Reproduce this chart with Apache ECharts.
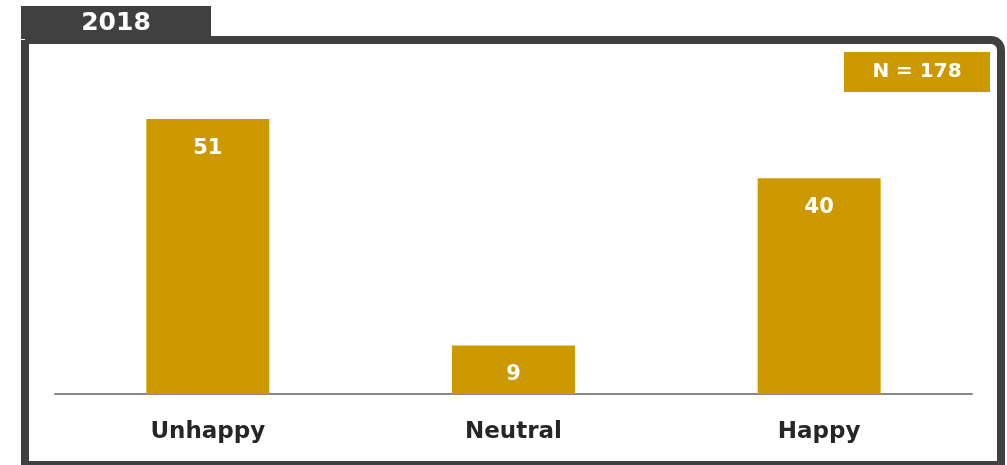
<!DOCTYPE html>
<html>
<head>
<meta charset="utf-8">
<script src="https://cdn.jsdelivr.net/npm/echarts@6/dist/echarts.min.js"></script>
<style>
  html, body { margin: 0; padding: 0; background: #ffffff; }
  #chart { width: 1007px; height: 465px; }
</style>
</head>
<body>
<div id="chart"></div>
<script>
// Survey responses for 2018
const categories = ['Unhappy', 'Neutral', 'Happy'];
const values = [51, 9, 40];
const yearLabel = '2018';
const sampleLabel = 'N = 178';

const gold = '#CC9900';
const frame = '#404040';

const chart = echarts.init(document.getElementById('chart'));

chart.setOption({
  animation: false,
  backgroundColor: '#ffffff',
  grid: { left: 55, right: 35, top: 70.5, bottom: 71 },
  xAxis: {
    type: 'category',
    data: categories,
    axisLine: { lineStyle: { color: '#888888', width: 2 } },
    axisTick: { show: false },
    axisLabel: {
      margin: 27,
      color: '#262626',
      fontFamily: 'DejaVu Sans',
      fontWeight: 'bold',
      fontSize: 23
    }
  },
  yAxis: {
    type: 'value',
    min: 0,
    max: 60,
    show: false
  },
  series: [{
    type: 'bar',
    data: values,
    barWidth: 123,
    itemStyle: { color: gold },
    label: {
      show: true,
      position: 'insideTop',
      distance: 19,
      color: '#ffffff',
      fontFamily: 'DejaVu Sans',
      fontWeight: 'bold',
      fontSize: 21
    }
  }],
  graphic: [
    {
      type: 'rect',
      z: 10,
      shape: { x: 25, y: 40, width: 976, height: 425, r: [0, 10, 0, 0] },
      style: { fill: null, stroke: frame, lineWidth: 8 }
    },
    {
      type: 'rect',
      z: 11,
      shape: { x: 21, y: 6, width: 190, height: 33 },
      style: { fill: frame }
    },
    {
      type: 'text',
      z: 12,
      x: 116,
      y: 23,
      style: {
        text: yearLabel,
        fill: '#ffffff',
        font: 'bold 25px "DejaVu Sans"',
        align: 'center',
        verticalAlign: 'middle'
      }
    },
    {
      type: 'rect',
      z: 11,
      shape: { x: 844, y: 52, width: 146, height: 40 },
      style: { fill: gold }
    },
    {
      type: 'text',
      z: 12,
      x: 917,
      y: 72,
      style: {
        text: sampleLabel,
        fill: '#ffffff',
        font: 'bold 20px "DejaVu Sans"',
        align: 'center',
        verticalAlign: 'middle'
      }
    }
  ]
});
</script>
</body>
</html>
